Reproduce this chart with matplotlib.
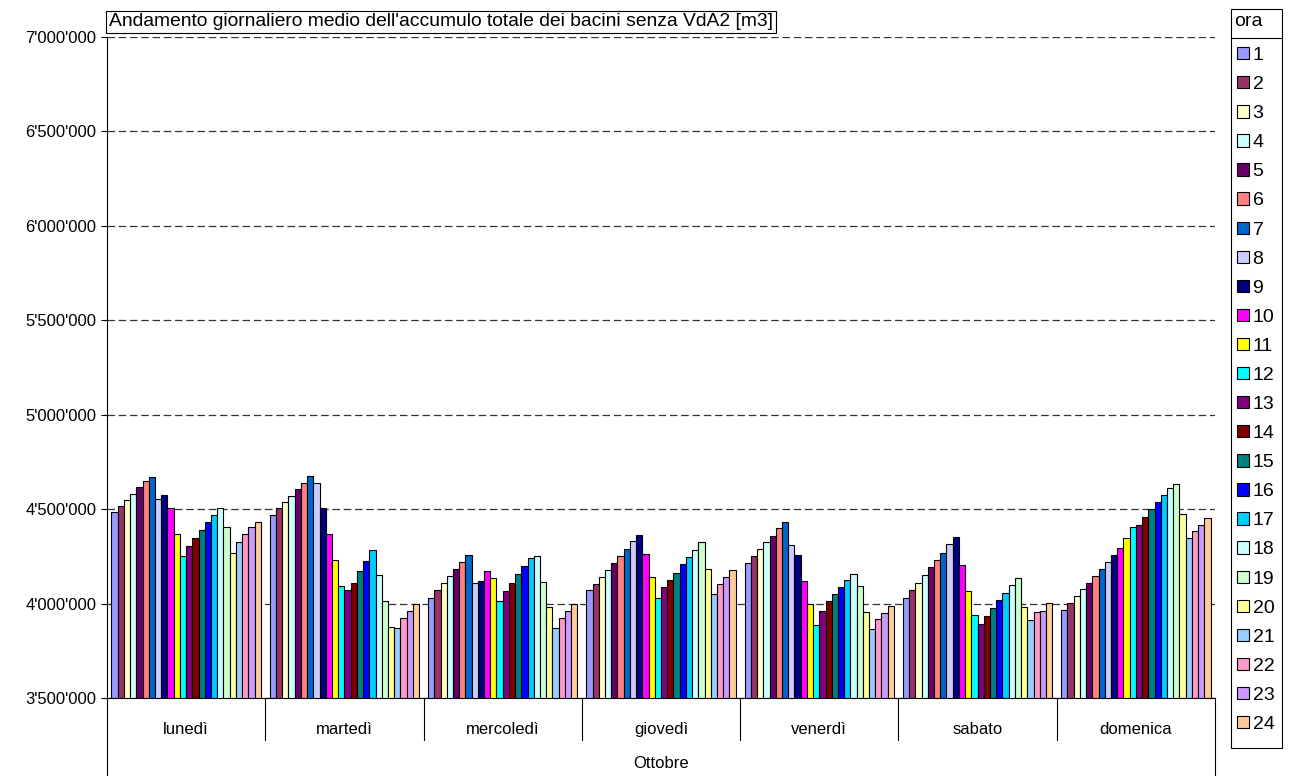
import matplotlib
matplotlib.use("Agg")
import matplotlib.pyplot as plt
from matplotlib.ticker import FuncFormatter, MultipleLocator
from matplotlib.lines import Line2D
from matplotlib.patches import Rectangle
import numpy as np

plt.rcParams['font.family'] = ['Liberation Sans', 'DejaVu Sans']

# Categories
days = ["lunedì", "martedì", "mercoledì", "giovedì", "venerdì", "sabato", "domenica"]
month = "Ottobre"
hours = [str(h) for h in range(1, 25)]

# average storage per hour (values in m3), one list per day, hours 1..24
lunedi = [4484000, 4518000, 4551000, 4581000, 4615000, 4647000, 4670000, 4555000,
          4574000, 4507000, 4371000, 4251000, 4304000, 4348000, 4389000, 4431000,
          4470000, 4507000, 4408000, 4270000, 4325000, 4369000, 4403000, 4433000]
martedi = [4468000, 4504000, 4537000, 4571000, 4606000, 4640000, 4673000, 4636000,
           4504000, 4366000, 4230000, 4095000, 4071000, 4111000, 4170000, 4228000,
           4284000, 4152000, 4016000, 3878000, 3873000, 3926000, 3961000, 3996000]
mercoledi = [4032000, 4071000, 4108000, 4145000, 4182000, 4219000, 4258000, 4108000,
             4118000, 4173000, 4133000, 4011000, 4067000, 4110000, 4155000, 4198000,
             4239000, 4251000, 4113000, 3981000, 3869000, 3926000, 3963000, 4000000]
giovedi = [4071000, 4106000, 4143000, 4178000, 4216000, 4254000, 4290000, 4330000,
           4362000, 4263000, 4143000, 4032000, 4087000, 4125000, 4164000, 4208000,
           4249000, 4284000, 4325000, 4184000, 4051000, 4106000, 4143000, 4178000]
venerdi = [4216000, 4253000, 4288000, 4325000, 4360000, 4398000, 4431000, 4309000,
           4256000, 4118000, 3998000, 3889000, 3959000, 4011000, 4053000, 4087000,
           4124000, 4159000, 4092000, 3958000, 3864000, 3917000, 3952000, 3989000]
sabato = [4030000, 4071000, 4110000, 4150000, 4191000, 4230000, 4270000, 4313000,
          4353000, 4205000, 4064000, 3938000, 3892000, 3936000, 3977000, 4018000,
          4058000, 4099000, 4136000, 3984000, 3913000, 3954000, 3961000, 4002000]
domenica = [3966000, 4004000, 4039000, 4076000, 4111000, 4148000, 4184000, 4219000,
            4256000, 4293000, 4346000, 4406000, 4417000, 4459000, 4502000, 4537000,
            4574000, 4610000, 4633000, 4473000, 4345000, 4382000, 4417000, 4454000]

values = np.array([lunedi, martedi, mercoledi, giovedi, venerdi, sabato, domenica])

colors = ["#9999FF", "#993366", "#FFFFCC", "#CCFFFF", "#660066", "#FF8080",
          "#0066CC", "#CCCCFF", "#000080", "#FF00FF", "#FFFF00", "#00FFFF",
          "#800080", "#800000", "#008080", "#0000FF", "#00CCFF", "#CCFFFF",
          "#CCFFCC", "#FFFF99", "#99CCFF", "#FF99CC", "#CC99FF", "#FFCC99"]

W, H = 1289, 776
fig = plt.figure(figsize=(W / 100, H / 100), dpi=100)
ax = fig.add_axes([107 / W, 1 - 698 / H, (1215 - 107) / W, (698 - 37) / H])

x = np.arange(len(days))
bw = 0.0393
for i in range(24):
    ax.bar(x + (i - 11.5) * bw, values[:, i], width=bw, color=colors[i],
           edgecolor="black", linewidth=0.8, label=hours[i], zorder=2)

ax.set_ylim(3500000, 7000000)
ax.set_xlim(-0.5, len(days) - 0.5)
ax.yaxis.set_major_locator(MultipleLocator(500000))
ax.yaxis.set_major_formatter(FuncFormatter(lambda v, p: f"{int(v):,}".replace(",", "'")))
ax.yaxis.grid(True, linestyle=(0, (6, 3)), color="#333333", linewidth=0.9)
ax.set_axisbelow(True)
ax.tick_params(axis="y", direction="out", length=4.5, width=0.8, labelsize=12, pad=3)

ax.set_xticks(x)
ax.set_xticklabels(days)
ax.tick_params(axis="x", length=0, labelsize=12, pad=17)

for s in ["top", "right"]:
    ax.spines[s].set_visible(False)
ax.spines["left"].set_linewidth(0.8)
ax.spines["bottom"].set_linewidth(0.8)

# category separators below the axis
trans = ax.get_xaxis_transform()
for b in np.arange(0.5, len(days) - 0.5, 1):
    ax.plot([b, b], [0, -42 / 661], color="black", lw=0.8, transform=trans, clip_on=False)
for b in [-0.5, len(days) - 0.5]:
    ax.plot([b, b], [0, -80 / 661], color="black", lw=0.8, transform=trans, clip_on=False)
ax.text(0.5, -65 / 661, month, transform=ax.transAxes, ha="center", va="center", fontsize=12)

fig.text(109 / W, 1 - 22 / H,
         "Andamento giornaliero medio dell'accumulo totale dei bacini senza VdA2 [m3]",
         ha="left", va="center", fontsize=13.9,
         bbox=dict(boxstyle="square,pad=0.14", fc="white", ec="black", lw=0.8))

# legend: entries from the bars, box and title drawn around them
leg = ax.legend(loc="upper left", bbox_to_anchor=(1237 / W, 1 - 47 / H),
                bbox_transform=fig.transFigure, fontsize=14, frameon=False,
                handlelength=0.6, handleheight=0.6, handletextpad=0.2,
                labelspacing=0.62, borderpad=0, borderaxespad=0)
fig.patches.append(Rectangle((1231 / W, 1 - 748 / H), 51 / W, 739 / H,
                             transform=fig.transFigure, fill=False, ec="black", lw=0.8))
fig.add_artist(Line2D([1231 / W, 1282 / W], [1 - 38 / H, 1 - 38 / H], color="black", lw=0.8))
fig.text(1234 / W, 1 - 22 / H, "ora", ha="left", va="center", fontsize=14)

fig.savefig("out.png", dpi=100)
